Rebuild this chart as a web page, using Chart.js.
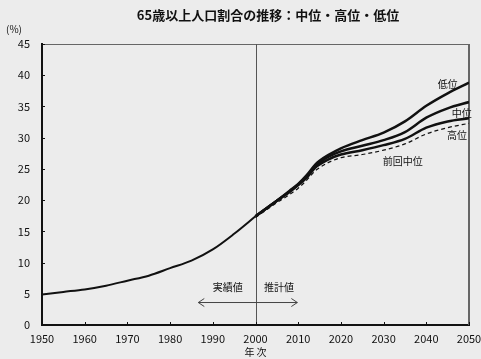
<!DOCTYPE html>
<html><head><meta charset="utf-8">
<script src="https://cdn.jsdelivr.net/npm/chart.js@4"></script>
<style>html,body{margin:0;padding:0;background:#ececec}#c{display:block}</style>
</head><body>
<canvas id="c" width="481" height="359"></canvas>
<script>
const title = '65歳以上人口割合の推移：中位・高位・低位';
const xTickLabels = [1950,1960,1970,1980,1990,2000,2010,2020,2030,2040,2050];
const yTickLabels = [0,5,10,15,20,25,30,35,40,45];
const histYears = [1950,1955,1960,1965,1970,1975,1980,1985,1990,1995,2000];
const histValues = [4.9,5.3,5.7,6.3,7.1,7.9,9.1,10.3,12.1,14.6,17.4];
const projYears = [2000,2005,2008,2010,2012,2014,2015,2017,2020,2025,2030,2035,2040,2045,2050];
const lowValues = [17.4,19.9,21.5,22.6,24.0,25.7,26.3,27.2,28.3,29.6,30.8,32.6,35.1,37.1,38.8];
const midValues = [17.4,19.9,21.4,22.5,23.8,25.5,26.0,26.9,27.8,28.7,29.6,30.9,33.2,34.7,35.7];
const highValues = [17.4,19.9,21.3,22.4,23.6,25.2,25.7,26.5,27.3,28.0,28.8,29.8,31.6,32.6,33.1];
const prevValues = [17.2,19.6,20.9,21.9,23.2,24.7,25.2,26.0,26.8,27.3,28.0,29.0,30.6,31.6,32.3];
const seriesLabels = ['低位','中位','高位','前回中位'];

const pts = (xs, ys) => xs.map((x, i) => ({x, y: ys[i]}));
const FONT = '"Noto Sans CJK JP", "DejaVu Sans", sans-serif';

const base = {pointRadius: 0, borderColor: '#111', fill: false, cubicInterpolationMode: 'monotone'};

const deco = {
  id: 'deco',
  beforeDraw(chart) {
    const c = chart.ctx;
    c.save();
    c.fillStyle = '#ececec';
    c.fillRect(0, 0, chart.width, chart.height);
    c.restore();
  },
  beforeDatasetsDraw(chart) {
    const c = chart.ctx, a = chart.chartArea;
    const xs = chart.scales.x, ys = chart.scales.y;
    c.save();
    c.strokeStyle = '#666'; c.lineWidth = 1;
    c.beginPath(); c.moveTo(a.left, a.top + 0.5); c.lineTo(a.right, a.top + 0.5); c.stroke();
    c.lineWidth = 2;
    c.beginPath(); c.moveTo(a.right, a.top); c.lineTo(a.right, a.bottom); c.stroke();
    const x2000 = Math.round(xs.getPixelForValue(2000)) + 0.5;
    c.strokeStyle = '#555'; c.lineWidth = 1;
    c.beginPath(); c.moveTo(x2000, a.top); c.lineTo(x2000, a.bottom); c.stroke();
    c.strokeStyle = '#111'; c.lineWidth = 1;
    yTickLabels.forEach(v => { const y = Math.round(ys.getPixelForValue(v)) + 0.5;
      c.beginPath(); c.moveTo(a.left, y); c.lineTo(a.left + 3, y); c.stroke(); });
    xTickLabels.forEach(v => { const x = Math.round(xs.getPixelForValue(v)) + 0.5;
      c.beginPath(); c.moveTo(x, a.bottom); c.lineTo(x, a.bottom - 3); c.stroke(); });
    const ay = ys.getPixelForValue(3.6);
    const ax1 = xs.getPixelForValue(1986.6), ax2 = xs.getPixelForValue(2009.8);
    c.strokeStyle = '#444'; c.lineWidth = 1;
    c.beginPath(); c.moveTo(ax1, ay); c.lineTo(ax2, ay); c.stroke();
    c.beginPath(); c.moveTo(ax1 + 6, ay - 4); c.lineTo(ax1, ay); c.lineTo(ax1 + 6, ay + 4); c.stroke();
    c.beginPath(); c.moveTo(ax2 - 6, ay - 4); c.lineTo(ax2, ay); c.lineTo(ax2 - 6, ay + 4); c.stroke();
    c.fillStyle = '#111'; c.font = '10px ' + FONT; c.textAlign = 'center'; c.textBaseline = 'middle';
    c.fillText('実績値', xs.getPixelForValue(1993.5), ys.getPixelForValue(6.1));
    c.fillText('推計値', xs.getPixelForValue(2005.5), ys.getPixelForValue(6.1));
    c.restore();
  },
  afterDraw(chart) {
    const c = chart.ctx;
    const xs = chart.scales.x, ys = chart.scales.y;
    c.save();
    c.fillStyle = '#111'; c.textBaseline = 'middle';
    c.font = 'bold 13px ' + FONT; c.textAlign = 'center';
    c.fillText(title, 268, 15);
    c.font = '10px ' + FONT; c.textAlign = 'left';
    c.fillText('(%)', 6, 29);
    c.textAlign = 'center';
    c.fillText('年 次', xs.getPixelForValue(2000), 352);
    c.fillText(seriesLabels[0], xs.getPixelForValue(2045.0), ys.getPixelForValue(38.6));
    c.fillText(seriesLabels[1], xs.getPixelForValue(2048.3), ys.getPixelForValue(33.9));
    c.fillText(seriesLabels[2], xs.getPixelForValue(2047.2), ys.getPixelForValue(30.4));
    c.fillText(seriesLabels[3], xs.getPixelForValue(2034.5), ys.getPixelForValue(26.2));
    c.restore();
  }
};

new Chart(document.getElementById('c'), {
  type: 'line',
  data: {datasets: [
    {...base, label: '実績', data: pts(histYears, histValues), borderWidth: 2},
    {...base, label: seriesLabels[0], data: pts(projYears, lowValues), borderWidth: 2.5},
    {...base, label: seriesLabels[1], data: pts(projYears, midValues), borderWidth: 2.5},
    {...base, label: seriesLabels[2], data: pts(projYears, highValues), borderWidth: 2.5},
    {...base, label: seriesLabels[3], data: pts(projYears, prevValues), borderWidth: 1.2, borderDash: [4, 3]}
  ]},
  options: {
    responsive: false, animation: false, events: [],
    layout: {padding: {top: 44, right: 12, bottom: 0, left: 0}},
    plugins: {legend: {display: false}, tooltip: {enabled: false}, title: {display: false}},
    scales: {
      x: {type: 'linear', min: 1950, max: 2050,
        afterBuildTicks(s) { s.ticks = xTickLabels.map(v => ({value: v})); },
        afterFit(s) { s.height = 34; s.paddingLeft = 0; s.paddingRight = 0; },
        grid: {display: false, drawTicks: false},
        border: {display: true, color: '#111', width: 2},
        ticks: {color: '#111', font: {size: 11, family: FONT}, padding: 7, maxRotation: 0, autoSkip: false,
          callback: v => String(v)}},
      y: {min: 0, max: 45,
        afterBuildTicks(s) { s.ticks = yTickLabels.map(v => ({value: v})); },
        afterFit(s) { s.width = 42; },
        grid: {display: false, drawTicks: false},
        border: {display: true, color: '#111', width: 2},
        ticks: {color: '#111', font: {size: 11, family: FONT}, padding: 12}}
    }
  },
  plugins: [deco]
});
</script>
</body></html>
